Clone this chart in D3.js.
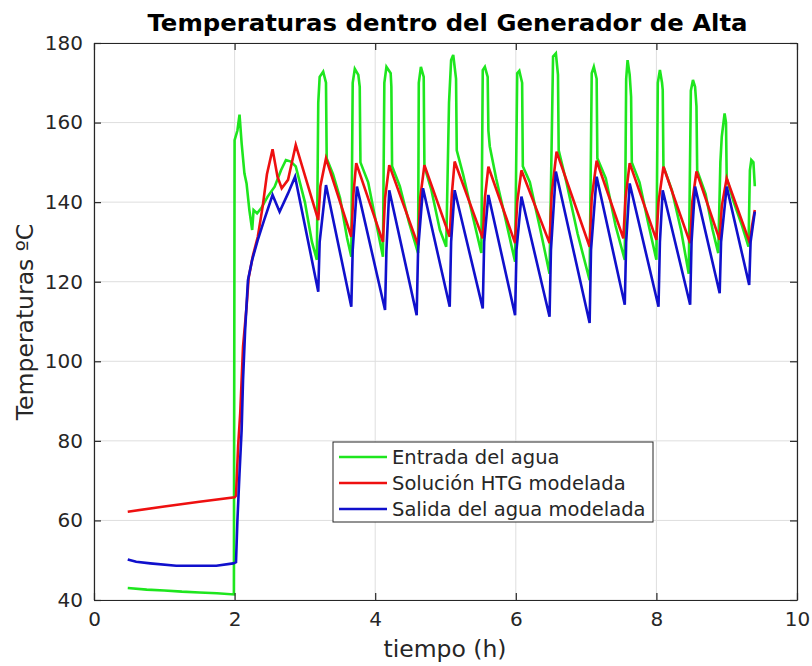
<!DOCTYPE html>
<html>
<head>
<meta charset="utf-8">
<script src="https://cdn.jsdelivr.net/npm/d3@7"></script>
<style>
  html, body { margin: 0; padding: 0; background: #fff; }
  svg { display: block; }
  text { font-family: "DejaVu Sans", sans-serif; }
</style>
</head>
<body>
<div id="chart"></div>
<script>
// ---------------- data ----------------
const xTicks = [0, 2, 4, 6, 8, 10];
const yTicks = [40, 60, 80, 100, 120, 140, 160, 180];
const seriesNames = ["Entrada del agua", "Solución HTG modelada", "Salida del agua modelada"];

// Entrada del agua (green)
const timeEntrada = [0.48,0.75,1.0,1.25,1.5,1.75,1.99,2.0,2.04,2.07,2.1,2.14,2.17,2.21,2.25,2.27,2.32,2.38,2.47,2.57,2.66,2.73,2.8,2.87,
  3.0,3.1,3.17,3.19,3.21,3.26,3.3,3.31,3.4,3.5,3.6,3.66,
  3.68,3.71,3.76,3.78,3.79,3.9,4.0,4.11,
  4.13,4.16,4.22,4.23,4.24,4.35,4.48,4.61,
  4.62,4.65,4.69,4.7,4.8,4.92,5.01,
  5.05,5.08,5.11,5.15,5.16,5.25,5.38,5.51,
  5.53,5.56,5.6,5.61,5.63,5.72,5.85,5.99,
  6.02,6.05,6.09,6.1,6.2,6.35,6.48,
  6.53,6.57,6.6,6.61,6.72,6.88,7.05,
  7.08,7.11,7.15,7.16,7.28,7.42,7.55,
  7.57,7.59,7.62,7.64,7.65,7.76,7.88,8.0,
  8.02,8.05,8.08,8.09,8.1,8.22,8.35,8.46,
  8.49,8.52,8.55,8.57,8.58,8.7,8.8,8.88,
  8.91,8.93,8.97,8.99,9.0,9.1,9.22,9.31,
  9.33,9.35,9.38,9.4];
const tempEntrada = [43.0,42.6,42.4,42.1,41.9,41.7,41.4,155.6,158,162,154.8,147.2,144.7,138,133,138,137.2,138.5,141.4,143.9,148,150.6,150.2,149,
  140,130,125.5,165,171.5,172.8,170,151,147,141,131,126.3,
  170,173.5,172,169,150,145,136,126.3,
  170,174,172.4,169,149,144,135,127.2,
  170,174,171.5,149,143,133,128.8,
  165,175.7,177,171,153,147,137,127.2,
  173.2,174,171.5,158,154,146,136,125,
  172.4,173,170,149,145,133,122,
  176.6,177.4,172,153,145,132,120.4,
  172.4,174,171,151,146,134,125.5,
  171,175.7,172,166.5,150,145,135,125.5,
  170,173.2,170,168.2,149,143,133,122,
  168,170.7,169,164,148,142,133,127.2,
  150,156.5,162.3,160,146,140,134,128.8,
  148,150.6,150,144];

// Solución HTG modelada (red)
const timeSolucion = [0.48,1.0,1.5,2.0,2.02,2.05,2.08,2.1,2.12,2.17,2.2,2.26,2.33,2.4,2.46,2.54,2.61,2.67,2.76,2.87,
  3.19,3.22,3.3, 3.66,3.69,3.73, 4.11,4.14,4.2, 4.61,4.64,4.7, 5.06,5.09,5.13,
  5.53,5.56,5.61, 5.99,6.02,6.08, 6.48,6.51,6.58, 7.05,7.08,7.15, 7.53,7.56,7.62,
  8.0,8.03,8.1, 8.48,8.51,8.57, 8.9,8.93,9.0, 9.33,9.36,9.4];
const tempSolucion = [62.2,63.5,64.7,65.8,66.2,78.6,87,95.3,103.7,113.7,121,126.5,131.3,139,147,153.3,146.4,143.5,145.6,154.4,
  135.5,144,151, 131.3,142,149.8, 130,141,149.3, 129.2,141,149.3, 131.3,142,150.2,
  130.9,141,148.9, 129.7,140,148, 129.7,142,152.7, 128.8,141,150.4, 130.9,141,149.8,
  130.5,140,148.9, 129.7,140,147.7, 130.5,139,146, 129.7,134,138];

// Salida del agua modelada (blue)
const timeSalida = [0.48,0.6,0.8,1.17,1.5,1.74,1.98,2.02,2.04,2.07,2.1,2.12,2.15,2.19,2.25,2.33,2.42,2.54,2.64,2.76,2.86,
  3.19,3.21,3.3, 3.66,3.68,3.74, 4.14,4.16,4.2, 4.59,4.61,4.68, 5.06,5.08,5.13,
  5.53,5.55,5.61, 5.99,6.01,6.08, 6.48,6.5,6.57, 7.05,7.07,7.15, 7.55,7.57,7.62,
  8.03,8.05,8.09, 8.48,8.5,8.55, 8.9,8.92,9.0, 9.32,9.34,9.4];
const tempSalida = [50.2,49.6,49.2,48.6,48.6,48.6,49.2,49.5,60,71.9,82.7,95.3,107.9,120.4,125.5,130.5,135.5,141.8,137.6,142.2,146.4,
  117.5,130,144.3, 113.7,128,143.9, 112.9,128,143, 111.6,128,143.5, 113.7,130,143,
  113.3,130,141.8, 111.6,128,141.4, 111.2,128,147.7, 109.6,128,146.4, 114.2,130,144.7,
  113.7,130,143, 114.2,130,143.9, 117.1,130,143.9, 119.2,130,137.6];

const colors = ["#1ee61e", "#ee1010", "#1010cc"];

// ---------------- layout ----------------
const W = 812, H = 666;
const m = { left: 94, right: 15, top: 43, bottom: 66 };
const iw = W - m.left - m.right, ih = H - m.top - m.bottom;

const svg = d3.select("#chart").append("svg").attr("width", W).attr("height", H);

const x = d3.scaleLinear().domain([0, 10]).range([m.left, m.left + iw]);
const y = d3.scaleLinear().domain([40, 180]).range([m.top + ih, m.top]);

// grid
const grid = svg.append("g");
grid.selectAll("line.gx").data(xTicks).join("line")
  .attr("x1", d => x(d)).attr("x2", d => x(d)).attr("y1", m.top).attr("y2", m.top + ih)
  .attr("stroke", "#dedede").attr("stroke-width", 1);
grid.selectAll("line.gy").data(yTicks).join("line")
  .attr("y1", d => y(d)).attr("y2", d => y(d)).attr("x1", m.left).attr("x2", m.left + iw)
  .attr("stroke", "#dedede").attr("stroke-width", 1);

// lines
const series = [
  { t: timeEntrada, v: tempEntrada },
  { t: timeSolucion, v: tempSolucion },
  { t: timeSalida, v: tempSalida }
];
const line = d3.line().x(d => x(d[0])).y(d => y(d[1]));
series.forEach((s, i) => {
  const pts = s.t.map((t, k) => [t, s.v[k]]);
  svg.append("path").datum(pts)
    .attr("d", line).attr("fill", "none")
    .attr("stroke", colors[i]).attr("stroke-width", 2.6)
    .attr("stroke-linejoin", "miter");
});

// axes
const axCol = "#262626";
const xAxis = svg.append("g").attr("transform", `translate(0,${m.top + ih})`)
  .call(d3.axisBottom(x).tickValues(xTicks).tickSizeInner(-7).tickSizeOuter(0).tickPadding(12));
const yAxis = svg.append("g").attr("transform", `translate(${m.left},0)`)
  .call(d3.axisLeft(y).tickValues(yTicks).tickSizeInner(-7).tickSizeOuter(0).tickPadding(11));
const xTop = svg.append("g").attr("transform", `translate(0,${m.top})`)
  .call(d3.axisTop(x).tickValues(xTicks).tickSizeInner(-7).tickSizeOuter(0).tickFormat(""));
const yRight = svg.append("g").attr("transform", `translate(${m.left + iw},0)`)
  .call(d3.axisRight(y).tickValues(yTicks).tickSizeInner(-7).tickSizeOuter(0).tickFormat(""));
[xAxis, yAxis, xTop, yRight].forEach(g => {
  g.select(".domain").attr("stroke", axCol).attr("stroke-width", 1.2);
  g.selectAll(".tick line").attr("stroke", axCol).attr("stroke-width", 1.2);
  g.selectAll(".tick text").attr("fill", "#262626").style("font-size", "20px")
    .style("font-family", "'DejaVu Sans', sans-serif");
});

// title and labels
svg.append("text").attr("x", 447.5).attr("y", 31).attr("text-anchor", "middle")
  .style("font-size", "23px").style("font-weight", "bold").attr("fill", "#000")
  .attr("textLength", 600).attr("lengthAdjust", "spacingAndGlyphs")
  .text("Temperaturas dentro del Generador de Alta");
svg.append("text").attr("x", 445).attr("y", 657).attr("text-anchor", "middle")
  .style("font-size", "23.5px").attr("fill", "#262626").text("tiempo (h)");
svg.append("text").attr("transform", `translate(33,322) rotate(-90)`).attr("text-anchor", "middle")
  .style("font-size", "23.5px").attr("fill", "#262626").text("Temperaturas ºC");

// legend
const lg = svg.append("g").attr("transform", "translate(333,442)");
lg.append("rect").attr("width", 320).attr("height", 80).attr("fill", "#fff")
  .attr("stroke", "#262626").attr("stroke-width", 1);
seriesNames.forEach((n, i) => {
  const cy = 15 + i * 26;
  lg.append("line").attr("x1", 6).attr("x2", 54).attr("y1", cy).attr("y2", cy)
    .attr("stroke", colors[i]).attr("stroke-width", 2.6);
  lg.append("text").attr("x", 59).attr("y", cy).attr("dy", "0.35em")
    .style("font-size", "19.5px").attr("fill", "#262626").text(n);
});
</script>
</body>
</html>
